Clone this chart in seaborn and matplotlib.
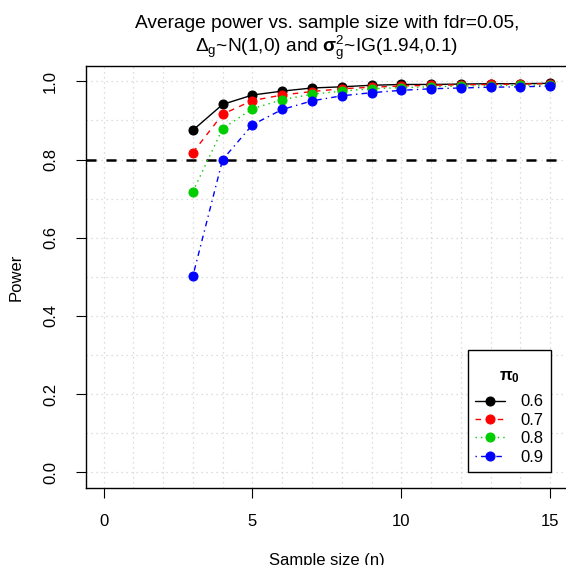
import numpy as np
import pandas as pd
import matplotlib
matplotlib.use("Agg")
import matplotlib.pyplot as plt
import seaborn as sns
from matplotlib.ticker import MultipleLocator, FixedLocator

sample_size = [3, 4, 5, 6, 7, 8, 9, 10, 11, 12, 13, 14, 15]
pi0_levels = ["0.6", "0.7", "0.8", "0.9"]
power_06 = [0.875, 0.941, 0.965, 0.975, 0.983, 0.986, 0.990, 0.992, 0.992, 0.993, 0.994, 0.994, 0.995]
power_07 = [0.818, 0.916, 0.951, 0.965, 0.974, 0.981, 0.985, 0.988, 0.990, 0.991, 0.992, 0.993, 0.994]
power_08 = [0.718, 0.879, 0.930, 0.953, 0.967, 0.975, 0.981, 0.984, 0.986, 0.988, 0.989, 0.990, 0.991]
power_09 = [0.502, 0.800, 0.889, 0.928, 0.950, 0.963, 0.971, 0.977, 0.981, 0.983, 0.985, 0.986, 0.988]
target_power = 0.8

series = [power_06, power_07, power_08, power_09]
colors = ["#000000", "#FF0000", "#00CD00", "#0000FF"]
styles = ["-", (0, (4, 4)), (0, (1, 3)), (0, (1, 3, 4, 3))]

sns.set_style("white")
plt.rcParams["font.family"] = ["Liberation Sans", "DejaVu Sans"]
plt.rcParams["mathtext.fontset"] = "custom"
plt.rcParams["mathtext.rm"] = "Liberation Sans"
plt.rcParams["mathtext.it"] = "Liberation Sans"
plt.rcParams["mathtext.bf"] = "Liberation Sans:bold"
plt.rcParams["text.color"] = "black"
plt.rcParams["axes.labelcolor"] = "black"
plt.rcParams["xtick.color"] = "black"
plt.rcParams["ytick.color"] = "black"

fig = plt.figure(figsize=(5.66, 5.65), dpi=100)
ax = fig.add_axes([85.7 / 566, 1 - 488 / 565, (568 - 85.7) / 566, (488 - 65.7) / 565])

for lvl, vals, c, ls in zip(pi0_levels, series, colors, styles):
    df = pd.DataFrame({"n": sample_size, "power": vals})
    sns.lineplot(data=df, x="n", y="power", ax=ax, color=c, linestyle=ls,
                 linewidth=1.0, marker="o", markersize=6.5,
                 markeredgecolor=c, markerfacecolor=c, label=lvl, zorder=3)

ax.axhline(target_power, color="black", linestyle=(0, (4, 4)), linewidth=1.8, zorder=2)

ax.set_xlim(-0.6, 15.6)
ax.set_ylim(-0.04, 1.04)
ax.xaxis.set_major_locator(FixedLocator([0, 5, 10, 15]))
ax.yaxis.set_major_locator(FixedLocator([0.0, 0.2, 0.4, 0.6, 0.8, 1.0]))
ax.xaxis.set_minor_locator(MultipleLocator(1))
ax.yaxis.set_minor_locator(MultipleLocator(0.1))
ax.set_yticklabels(["0.0", "0.2", "0.4", "0.6", "0.8", "1.0"], rotation=90, va="center")
ax.grid(which="both", color="#D3D3D3", linestyle=(0, (1, 3)), linewidth=0.9, zorder=0)
ax.set_axisbelow(True)
ax.tick_params(which="major", direction="out", length=7, width=0.8, color="black",
               labelcolor="black", labelsize=12, bottom=True, left=True)
ax.tick_params(axis="x", which="major", pad=12)
ax.tick_params(axis="y", which="major", pad=13)
ax.tick_params(which="minor", length=0)
for s in ax.spines.values():
    s.set_color("black")
    s.set_linewidth(1.0)

ax.set_xlabel("Sample size (n)", fontsize=12, labelpad=17, color="black")
ax.set_ylabel("Power", fontsize=12, labelpad=14, color="black")
ax.set_title("Average power vs. sample size with fdr=0.05,\n"
             r"$\Delta_g$~N(1,0) and $\mathbf{\sigma}_g^2$~IG(1.94,0.1)",
             fontsize=13.8, pad=10, linespacing=1.1, color="black")

leg = ax.legend(title="\n" + r"$\mathbf{\pi_0}$", loc="lower right",
                bbox_to_anchor=(551 / 566, 1 - 472 / 565), bbox_transform=fig.transFigure,
                fancybox=False, framealpha=1, edgecolor="black", fontsize=12,
                title_fontsize=12, handlelength=1.8, handletextpad=0.9,
                borderpad=0.45, labelspacing=0.2, borderaxespad=0)
leg.get_title().set_linespacing(0.65)
leg._legend_box.sep = 7
leg.get_frame().set_linewidth(1.0)

fig.savefig("out.png", dpi=100)
